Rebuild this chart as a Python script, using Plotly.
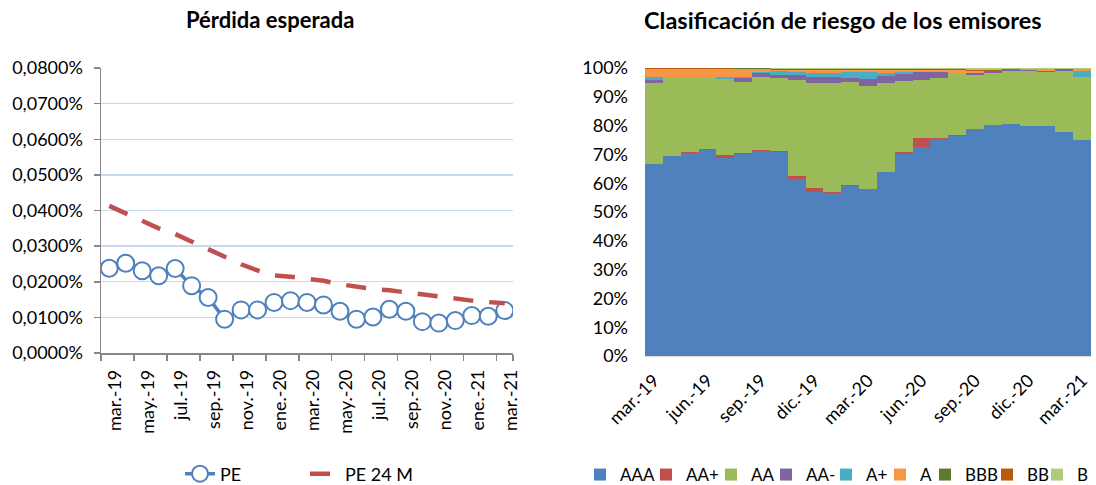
import plotly.graph_objects as go

# ---------------- data ----------------
months = ["mar.-19", "abr.-19", "may.-19", "jun.-19", "jul.-19", "ago.-19", "sep.-19",
          "oct.-19", "nov.-19", "dic.-19", "ene.-20", "feb.-20", "mar.-20", "abr.-20",
          "may.-20", "jun.-20", "jul.-20", "ago.-20", "sep.-20", "oct.-20", "nov.-20",
          "dic.-20", "ene.-21", "feb.-21", "mar.-21"]

pe = [0.0238, 0.0252, 0.0231, 0.0217, 0.0237, 0.0189, 0.0156, 0.0095, 0.0121, 0.0121,
      0.0142, 0.0147, 0.0142, 0.0135, 0.0117, 0.0095, 0.0101, 0.0123, 0.0117, 0.0088,
      0.0084, 0.0091, 0.0105, 0.0103, 0.0119]
pe24 = [0.0413, 0.0392, 0.0373, 0.0350, 0.0334, 0.0313, 0.0291, 0.0271, 0.0249, 0.0232,
        0.0218, 0.0214, 0.0209, 0.0203, 0.0193, 0.0185, 0.0180, 0.0176, 0.0170, 0.0163,
        0.0158, 0.0154, 0.0147, 0.0143, 0.0140]

ratings = ["AAA", "AA+", "AA", "AA-", "A+", "A", "BBB", "BB", "B"]
aaa = [66.8, 69.4, 70.5, 71.4, 68.9, 70.1, 71.2, 70.9, 61.5, 57.1, 56.6, 59.2, 58.0, 63.9,
       70.3, 72.6, 75.4, 76.5, 78.8, 80.2, 80.5, 80.0, 80.0, 77.9, 75.1]
aa_plus = [0.0, 0.0, 0.4, 0.5, 0.8, 0.4, 0.4, 0.5, 1.0, 1.4, 0.4, 0.1, 0.1, 0.0, 0.5, 3.0,
           0.2, 0.2, 0.0, 0.0, 0.0, 0.0, 0.0, 0.0, 0.0]
aa = [27.9, 27.0, 25.5, 24.7, 26.4, 24.8, 25.4, 25.4, 33.7, 36.2, 37.7, 35.7, 35.5, 30.8,
      24.7, 20.4, 20.8, 21.3, 19.0, 18.4, 18.5, 18.8, 18.6, 21.1, 21.7]
aa_minus = [1.3, 0.2, 0.2, 0.0, 0.0, 1.1, 1.2, 1.0, 1.6, 2.1, 2.1, 1.5, 2.6, 2.4, 2.4, 2.5,
            2.1, 0.0, 0.7, 0.5, 0.6, 0.5, 0.5, 0.4, 0.0]
a_plus = [0.8, 0.0, 0.0, 0.0, 0.8, 0.6, 0.4, 1.2, 1.1, 1.5, 1.5, 2.0, 2.3, 1.2, 0.6, 0.1,
          0.0, 0.0, 0.0, 0.0, 0.0, 0.0, 0.0, 0.0, 2.3]
a = [2.8, 3.0, 3.0, 3.0, 2.7, 2.5, 0.9, 0.6, 0.7, 1.1, 1.1, 0.9, 0.9, 1.1, 0.9, 0.8, 0.9,
     1.2, 0.5, 0.0, 0.0, 0.3, 0.4, 0.0, 0.4]
bbb = [0.2, 0.2, 0.2, 0.2, 0.2, 0.4, 0.4, 0.2, 0.2, 0.2, 0.2, 0.2, 0.2, 0.2, 0.2, 0.2, 0.2,
       0.2, 0.2, 0.2, 0.1, 0.1, 0.1, 0.1, 0.1]
bb = [0.2, 0.2, 0.2, 0.2, 0.2, 0.1, 0.1, 0.2, 0.2, 0.2, 0.2, 0.2, 0.2, 0.2, 0.2, 0.2, 0.2,
      0.2, 0.2, 0.2, 0.1, 0.1, 0.1, 0.1, 0.1]
b = [0.0, 0.0, 0.0, 0.0, 0.0, 0.0, 0.0, 0.2, 0.2, 0.2, 0.2, 0.2, 0.2, 0.2, 0.2, 0.2, 0.2,
     0.4, 0.7, 0.7, 0.2, 0.2, 0.3, 0.5, 0.3]
rating_values = [aaa, aa_plus, aa, aa_minus, a_plus, a, bbb, bb, b]
rating_colors = ["#4F81BD", "#C0504D", "#9BBB59", "#8064A2", "#4BACC6", "#F79646",
                 "#5E7A2E", "#B85A0A", "#AFCB7B"]

# ---------------- layout helpers ----------------
W, H = 1096, 485
FONT = "Lato, 'Open Sans', sans-serif"


def px(xp):
    return xp / W


def py(yp):
    return 1 - yp / H


idx = list(range(len(months)))

fig = go.Figure()

# ---------------- left chart ----------------
fig.add_trace(go.Scatter(
    x=idx, y=pe, name="PE", mode="lines+markers",
    line=dict(color="#4F81BD", width=3.5),
    marker=dict(symbol="circle", size=17, color="white",
                line=dict(color="#4F81BD", width=2)),
    xaxis="x", yaxis="y", legend="legend", showlegend=True, hoverinfo="skip"))
fig.add_trace(go.Scatter(
    x=idx, y=pe24, name="PE 24 M", mode="lines",
    line=dict(color="#C0504D", width=4.5, dash="20px,16px"),
    xaxis="x", yaxis="y", legend="legend2", showlegend=True, hoverinfo="skip"))

# ---------------- right chart ----------------
for k, (name, vals, col) in enumerate(zip(ratings, rating_values, rating_colors)):
    fig.add_trace(go.Bar(
        x=idx, y=vals, name=name, marker=dict(color=col, line=dict(width=0)),
        xaxis="x2", yaxis="y2", legend=f"legend{k + 3}", showlegend=True,
        hoverinfo="skip"))

layout = dict(
    width=W, height=H, autosize=False,
    margin=dict(l=0, r=0, t=0, b=0, autoexpand=False),
    paper_bgcolor="white", plot_bgcolor="white",
    font=dict(family=FONT, size=18, color="black"),
    separators=",.",
    barmode="stack", barnorm="percent", bargap=0,
    xaxis=dict(
        domain=[px(101), px(513)], range=[-0.5, len(months) - 0.5],
        tickmode="array", tickvals=idx[::2], ticktext=months[::2],
        tickangle=-90, ticks="", showgrid=False, zeroline=False,
        showline=True, linecolor="#868686", linewidth=1.5,
        ticklabelstandoff=8, ticklabelshift=6, automargin=False,
        minor=dict(tickmode="array",
                   tickvals=[i - 0.5 for i in idx[::2]] + [len(months) - 0.5],
                   ticks="outside", ticklen=6, tickcolor="#868686", tickwidth=1.5,
                   showgrid=False),
        anchor="y", fixedrange=True),
    yaxis=dict(
        domain=[py(353), py(68)], range=[0, 0.08],
        tickmode="linear", tick0=0, dtick=0.01, tickformat=".4f", ticksuffix="%",
        showgrid=True, gridcolor="#C6D9F1", gridwidth=1.3, zeroline=False,
        showline=True, linecolor="#868686", linewidth=1.5,
        ticks="outside", ticklen=6, tickcolor="#868686", tickwidth=1.5,
        ticklabelstandoff=7, automargin=False, anchor="x", fixedrange=True),
    xaxis2=dict(
        domain=[px(645), px(1091)], range=[-0.5, len(months) - 0.5],
        tickmode="array", tickvals=idx[::3], ticktext=months[::3],
        tickangle=-45, ticks="", showgrid=False, zeroline=False,
        showline=True, linecolor="#D9D9D9", linewidth=1,
        ticklabelstandoff=6, automargin=False, anchor="y2", fixedrange=True),
    yaxis2=dict(
        domain=[py(356), py(68)], range=[0, 100],
        tickmode="linear", tick0=0, dtick=10, ticksuffix="%",
        showgrid=False, zeroline=False, showline=False, ticks="",
        ticklabelstandoff=16, automargin=False, anchor="x2", fixedrange=True),
    annotations=[
        dict(text="<b>Pérdida esperada</b>", x=px(270), y=py(20), xref="paper",
             yref="paper", showarrow=False, xanchor="center", yanchor="middle",
             font=dict(family=FONT, size=22, color="black")),
        dict(text="<b>Clasificación de riesgo de los emisores</b>", x=px(843), y=py(20),
             xref="paper", yref="paper", showarrow=False, xanchor="center",
             yanchor="middle", font=dict(family=FONT, size=23.5, color="black")),
    ],
)

legend_common = dict(orientation="h", yanchor="middle", xanchor="left",
                     bgcolor="rgba(0,0,0,0)", borderwidth=0,
                     font=dict(family=FONT, size=17, color="black"))
layout["legend"] = dict(legend_common, x=px(180), y=py(474),
                        font=dict(family=FONT, size=18, color="black"))
layout["legend2"] = dict(legend_common, x=px(305), y=py(474),
                         font=dict(family=FONT, size=18, color="black"))
legend_text_x = [622, 688, 753, 808, 868, 922, 967, 1029, 1079]
for k, tx in enumerate(legend_text_x):
    layout[f"legend{k + 3}"] = dict(legend_common, x=px(tx - 42), y=py(475))

fig.update_layout(**layout)
fig.write_html("out.html", config={"displayModeBar": False, "staticPlot": True},
               post_script="document.body.style.margin='0';")
